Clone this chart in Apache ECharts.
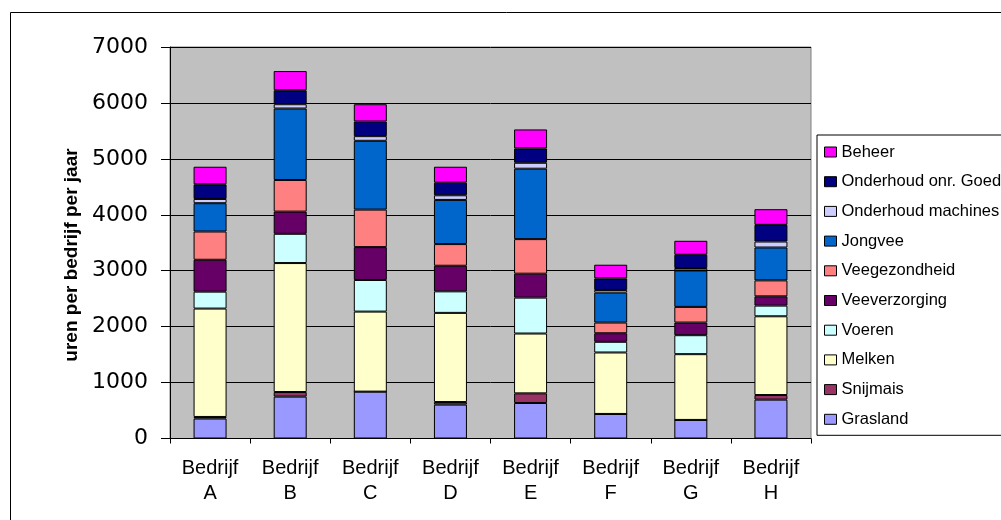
<!DOCTYPE html>
<html>
<head>
<meta charset="utf-8">
<script src="https://cdn.jsdelivr.net/npm/echarts@6/dist/echarts.min.js"></script>
<style>
  html, body { margin: 0; padding: 0; background: #fff; }
  #chart { width: 1001px; height: 520px; }
</style>
</head>
<body>
<div id="chart"></div>
<script>
// categorieen
var bedrijven = ['Bedrijf\nA', 'Bedrijf\nB', 'Bedrijf\nC', 'Bedrijf\nD', 'Bedrijf\nE', 'Bedrijf\nF', 'Bedrijf\nG', 'Bedrijf\nH'];
var yTicks = [0, 1000, 2000, 3000, 4000, 5000, 6000, 7000];

// uren per onderdeel
var grasland      = [357, 749, 838, 606, 635, 439, 332, 695];
var snijmais      = [28, 82, 0, 46, 172, 0, 0, 82];
var melken        = [1938, 2306, 1431, 1594, 1070, 1099, 1176, 1408];
var voeren        = [303, 523, 565, 385, 642, 191, 339, 191];
var veeverzorging = [570, 397, 588, 458, 428, 153, 226, 166];
var veegezondheid = [505, 565, 671, 387, 618, 191, 280, 285];
var jongvee       = [506, 1278, 1230, 790, 1259, 535, 652, 588];
var ondMachines   = [76, 77, 83, 83, 106, 48, 43, 107];
var ondOnrGoed    = [262, 249, 262, 225, 257, 207, 237, 298];
var beheer        = [314, 344, 309, 285, 339, 244, 250, 280];

var reeksen = [
  { name: 'Grasland', data: grasland, color: '#9999FF' },
  { name: 'Snijmais', data: snijmais, color: '#993366' },
  { name: 'Melken', data: melken, color: '#FFFFCC' },
  { name: 'Voeren', data: voeren, color: '#CCFFFF' },
  { name: 'Veeverzorging', data: veeverzorging, color: '#660066' },
  { name: 'Veegezondheid', data: veegezondheid, color: '#FF8080' },
  { name: 'Jongvee', data: jongvee, color: '#0066CC' },
  { name: 'Onderhoud machines', data: ondMachines, color: '#CCCCFF' },
  { name: 'Onderhoud onr. Goed', data: ondOnrGoed, color: '#000080' },
  { name: 'Beheer', data: beheer, color: '#FF00FF' }
];

var font = 'Arial, "Liberation Sans", sans-serif';
var myChart = echarts.init(document.getElementById('chart'));

var option = {
  animation: false,
  backgroundColor: '#fff',
  textStyle: { fontFamily: font, color: '#000' },
  graphic: [
    { // kader om de hele grafiek
      type: 'rect', z: 0, silent: true,
      shape: { x: 10.5, y: 12.5, width: 1100, height: 700 },
      style: { fill: 'none', stroke: '#000', lineWidth: 1 }
    },
    { // titel y-as
      type: 'text', z: 10,
      x: 72, y: 255, rotation: Math.PI / 2,
      style: {
        text: 'uren per bedrijf per jaar',
        font: 'bold 19px ' + font,
        fill: '#000', align: 'center', verticalAlign: 'middle'
      }
    }
  ],
  legend: {
    orient: 'vertical',
    left: 817, top: 135,
    padding: [7, 20, 6, 7],
    backgroundColor: '#fff',
    borderColor: '#000', borderWidth: 1,
    itemWidth: 12, itemHeight: 10, itemGap: 9.7,
    icon: 'rect',
    itemStyle: { borderColor: '#000', borderWidth: 1 },
    textStyle: { fontSize: 16.5, lineHeight: 20, fontFamily: font, color: '#000' },
    data: reeksen.map(function (r) { return r.name; }).reverse()
  },
  grid: {
    left: 170, right: 190, top: 47, bottom: 81.5,
    show: true, backgroundColor: '#C0C0C0',
    borderColor: '#808080', borderWidth: 1
  },
  xAxis: {
    type: 'category',
    data: bedrijven,
    axisLine: { lineStyle: { color: '#000', width: 1 } },
    axisTick: { show: true, length: 5, lineStyle: { color: '#000' } },
    axisLabel: { fontSize: 20, lineHeight: 25, margin: 17, color: '#000', fontFamily: font }
  },
  yAxis: {
    type: 'value',
    min: 0, max: 7000, interval: 1000,
    axisLine: { show: true, lineStyle: { color: '#000', width: 1 } },
    axisTick: { show: true, length: 9, lineStyle: { color: '#000' } },
    axisLabel: {
      fontSize: 22, margin: 22, color: '#000', fontFamily: '"DejaVu Sans", sans-serif',
      formatter: function (v) { return yTicks.indexOf(v) >= 0 ? String(v) : ''; }
    },
    splitLine: { show: true, lineStyle: { color: '#000', width: 1 } }
  },
  series: reeksen.map(function (r) {
    return {
      name: r.name,
      type: 'bar',
      stack: 'uren',
      barWidth: 33,
      data: r.data,
      itemStyle: { color: r.color, borderColor: '#000', borderWidth: 1 }
    };
  })
};
myChart.setOption(option);
</script>
</body>
</html>
